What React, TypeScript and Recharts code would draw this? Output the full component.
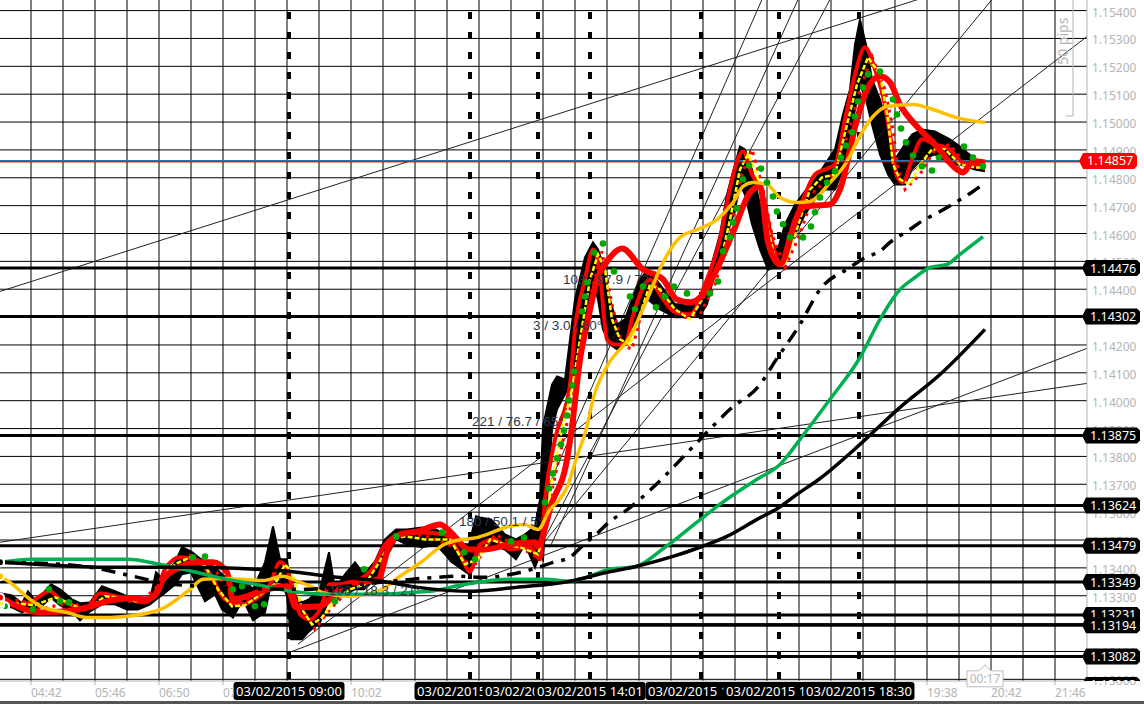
import React from "react";
import { ComposedChart, CartesianGrid, XAxis, YAxis, Line, Area, ReferenceLine, ReferenceDot } from "recharts";

const FONT = "'Noto Sans', sans-serif";
const hhmm = (t: number) => `${String(Math.floor(t / 60)).padStart(2, "0")}:${String(t % 60).padStart(2, "0")}`;

// time in minutes of the day, price
const priceTicks = [1.13, 1.131, 1.132, 1.133, 1.134, 1.135, 1.136, 1.137, 1.138, 1.139, 1.14, 1.141, 1.142, 1.143, 1.144, 1.145, 1.146, 1.147, 1.148, 1.149, 1.15, 1.151, 1.152, 1.153, 1.154];
const timeLabels = [282, 346, 410, 474, 602, 1178, 1242, 1306];
const timeGrid = [282, 314, 346, 378, 410, 442, 474, 506, 538, 570, 602, 634, 666, 698, 730, 762, 794, 826, 858, 890, 922, 954, 986, 1018, 1050, 1082, 1114, 1146, 1178, 1210, 1242, 1274, 1306];
const levels = [1.14476, 1.14302, 1.13875, 1.13624, 1.13479, 1.13349, 1.13231, 1.13194, 1.13082];
const markers = [
  { t: 540, label: "03/02/2015 09:00" },
  { t: 721, label: "03/02/2015 12:01" },
  { t: 789, label: "03/02/2015 13:09" },
  { t: 841, label: "03/02/2015 14:01" },
  { t: 952, label: "03/02/2015 15:52" },
  { t: 1030, label: "03/02/2015 17:10" },
  { t: 1110, label: "03/02/2015 18:30" },
];
const annotations = [
  { t: 580, p: 1.13302, text: "106 / 18.3 / 21°" },
  { t: 710, p: 1.13550, text: "180 / 50.1 / 5°" },
  { t: 723, p: 1.13910, text: "221 / 76.7 / 65°" },
  { t: 784, p: 1.14255, text: "3 / 3.0 / 60°" },
  { t: 814, p: 1.14420, text: "103 / 97.9 / 72°" },
];
const trendLines = [
  [251, 1.14392, 1169, 1.1544],
  [549, 1.13126, 1338, 1.15307],
  [543, 1.131, 1338, 1.14188],
  [251, 1.13492, 1338, 1.14062],
  [791, 1.13474, 1243, 1.1544],
  [791, 1.13474, 1081, 1.1544],
  [801, 1.13474, 1049, 1.1544],
  [791, 1.13624, 1013, 1.1544],
];

// time, high, low
const priceBand = [
  [251,1.13309,1.13266],[263,1.13301,1.13258],[273,1.13273,1.1324],[279,1.13316,1.13251],[287,1.1328,1.13244],[302,1.13341,1.13294],[311,1.13323,1.13266],[323,1.13287,1.13244],[331,1.13273,1.13212],[341,1.13276,1.13244],[353,1.13334,1.13269],[366,1.13316,1.13269],[378,1.13298,1.13251],[389,1.13294,1.13251],[401,1.13287,1.13269],[407,1.13384,1.13287],[414,1.13359,1.13305],[426,1.1342,1.1334],[433,1.13474,1.13377],[442,1.13459,1.13384],[456,1.1342,1.1328],[466,1.13402,1.13305],[473,1.13377,1.13251],[484,1.13341,1.13222],[494,1.13359,1.13287],[504,1.13323,1.13212],[516,1.1342,1.1324],[524,1.13549,1.13377],[531,1.13431,1.13359],[538,1.13431,1.133],[542,1.13312,1.13144],[553,1.13276,1.13144],[560,1.13287,1.13172],[571,1.13323,1.13205],[580,1.13456,1.13287],[586,1.13323,1.13287],[596,1.13377,1.13305],[606,1.1342,1.13323],[615,1.13377,1.13323],[626,1.13423,1.13359],[636,1.13502,1.13431],[647,1.13538,1.13502],[658,1.13538,1.13484],[673,1.13545,1.13474],[687,1.13538,1.13484],[696,1.1352,1.13449],[702,1.1349,1.13423],[720,1.13484,1.13377],[727,1.13585,1.1344],[731,1.13581,1.13477],[742,1.13574,1.13484],[756,1.1352,1.13466],[767,1.13502,1.13431],[776,1.1352,1.13484],[786,1.13549,1.13402],[791,1.13646,1.13449],[794,1.13908,1.13431],[803,1.14058,1.13897],[808,1.14087,1.13969],[816,1.14076,1.14023],[826,1.14363,1.14105],[836,1.14514,1.14292],[844,1.14568,1.14435],[849,1.14543,1.14363],[854,1.14489,1.14256],[861,1.14363,1.14202],[868,1.14274,1.14184],[876,1.14292,1.14202],[883,1.14363,1.14238],[891,1.14435,1.14328],[899,1.14471,1.14363],[911,1.14417,1.14328],[926,1.14346,1.14299],[941,1.14346,1.14299],[951,1.14363,1.14306],[958,1.14428,1.14346],[964,1.14507,1.14435],[971,1.14597,1.14489],[978,1.1474,1.14597],[986,1.14848,1.14686],[991,1.14912,1.14776],[996,1.14902,1.1474],[1003,1.1483,1.14633],[1011,1.14704,1.14543],[1019,1.14579,1.14471],[1029,1.14543,1.14482],[1036,1.14633,1.14525],[1046,1.14704,1.14597],[1056,1.14751,1.14668],[1066,1.14794,1.14722],[1076,1.14848,1.14758],[1086,1.14902,1.14758],[1094,1.15027,1.1483],[1101,1.15117,1.14955],[1106,1.15278,1.15045],[1111,1.15368,1.15135],[1117,1.15278,1.15081],[1123,1.15153,1.14991],[1131,1.15081,1.14884],[1139,1.14973,1.14812],[1146,1.14866,1.14776],[1156,1.1492,1.14776],[1163,1.14955,1.1483],[1173,1.14973,1.14866],[1186,1.14966,1.14884],[1201,1.14938,1.14848],[1211,1.14912,1.14848],[1226,1.14866,1.1483],[1236,1.14848,1.14823],
];
const redSlow = [
  [251,1.13294],[271,1.13258],[291,1.1324],[318,1.13244],[338,1.13258],[358,1.1328],[378,1.13291],[398,1.13287],[408,1.13312],[414,1.13359],[431,1.13402],[448,1.1342],[464,1.1342],[478,1.13384],[484,1.13287],[498,1.13298],[518,1.13323],[538,1.13334],[547,1.13258],[571,1.13262],[581,1.13287],[596,1.13341],[629,1.13359],[640,1.13477],[651,1.1352],[669,1.13531],[691,1.13556],[702,1.13527],[720,1.13466],[735,1.13466],[760,1.13484],[786,1.13492],[788,1.13477],[803,1.13635],[818,1.13789],[823,1.13908],[831,1.14148],[839,1.14292],[849,1.14446],[858,1.145],[873,1.14546],[894,1.14471],[914,1.14435],[928,1.14363],[941,1.14353],[954,1.14381],[971,1.14496],[984,1.14604],[1001,1.14747],[1011,1.14769],[1019,1.14568],[1031,1.14489],[1048,1.14661],[1054,1.14697],[1081,1.14704],[1091,1.14758],[1108,1.15009],[1118,1.15117],[1131,1.15164],[1141,1.15142],[1151,1.15063],[1168,1.14984],[1184,1.14927],[1208,1.1483],[1214,1.14819],[1224,1.14859],[1236,1.14855],
];
const redFast = [
  [251,1.13287],[266,1.13266],[281,1.13276],[301,1.13316],[311,1.13287],[326,1.13262],[336,1.13251],[351,1.13309],[366,1.13298],[381,1.13287],[396,1.13276],[408,1.13323],[416,1.13395],[431,1.13438],[446,1.13431],[461,1.13377],[476,1.13287],[491,1.13269],[506,1.13287],[521,1.13341],[531,1.1342],[538,1.13395],[546,1.13287],[551,1.13233],[561,1.13215],[571,1.13251],[581,1.13341],[596,1.13341],[611,1.13359],[623,1.13395],[636,1.13484],[651,1.1352],[671,1.13527],[696,1.1352],[711,1.13449],[721,1.13387],[731,1.13484],[746,1.13502],[761,1.13466],[781,1.13474],[791,1.13431],[796,1.13646],[806,1.13861],[821,1.14058],[826,1.14256],[836,1.14435],[844,1.14543],[851,1.14453],[858,1.1422],[866,1.14202],[876,1.14202],[883,1.14292],[891,1.14381],[901,1.14435],[911,1.14381],[926,1.14317],[941,1.1431],[956,1.14417],[971,1.14579],[983,1.14794],[994,1.14894],[1003,1.14812],[1013,1.14747],[1026,1.14532],[1031,1.14489],[1041,1.14597],[1056,1.1474],[1066,1.14812],[1076,1.1483],[1086,1.14848],[1096,1.15009],[1106,1.15171],[1116,1.15268],[1126,1.15189],[1134,1.15092],[1143,1.14912],[1148,1.14805],[1154,1.14783],[1163,1.14866],[1173,1.14938],[1186,1.1492],[1201,1.14902],[1216,1.14848],[1226,1.14848],[1236,1.14848],
];
const yellowDotted = [
  [251,1.13276],[266,1.13273],[286,1.13266],[306,1.13294],[316,1.1328],[329,1.13258],[341,1.13258],[356,1.13298],[371,1.13294],[386,1.1328],[401,1.13287],[413,1.13341],[426,1.13413],[441,1.13438],[456,1.13409],[469,1.13323],[483,1.13262],[496,1.13266],[513,1.13309],[526,1.13341],[536,1.13413],[544,1.13377],[553,1.13251],[563,1.13197],[573,1.13222],[586,1.13287],[601,1.13323],[616,1.13341],[629,1.13413],[643,1.13502],[656,1.13513],[676,1.13502],[701,1.13502],[716,1.13413],[729,1.13431],[741,1.13502],[756,1.13484],[771,1.13474],[789,1.13449],[796,1.13538],[803,1.13718],[813,1.13897],[823,1.14041],[831,1.1422],[841,1.14435],[849,1.14525],[856,1.14471],[863,1.14292],[871,1.1422],[881,1.14202],[891,1.1431],[901,1.14417],[911,1.14399],[926,1.14328],[941,1.14292],[956,1.14381],[971,1.14489],[981,1.1465],[991,1.1483],[999,1.14884],[1008,1.14812],[1018,1.14633],[1026,1.14507],[1036,1.14489],[1046,1.14597],[1061,1.14758],[1073,1.14801],[1086,1.14812],[1098,1.14991],[1108,1.15135],[1119,1.15232],[1131,1.15171],[1139,1.15009],[1144,1.14848],[1151,1.14794],[1161,1.14776],[1171,1.14848],[1183,1.14902],[1196,1.14902],[1211,1.14848],[1226,1.14837],[1236,1.14837],
];
const redDotted = [
  [251,1.13266],[271,1.13287],[291,1.13251],[321,1.13276],[341,1.13251],[361,1.13287],[391,1.13276],[416,1.13359],[441,1.13445],[466,1.13395],[486,1.13273],[511,1.13294],[536,1.13402],[551,1.13269],[566,1.13179],[581,1.13251],[606,1.13341],[636,1.13431],[651,1.13531],[681,1.13509],[706,1.13474],[723,1.13395],[746,1.1352],[771,1.13474],[791,1.13431],[801,1.13646],[811,1.13807],[821,1.13969],[833,1.1422],[843,1.14399],[853,1.14536],[863,1.14346],[873,1.14202],[883,1.14184],[896,1.14363],[906,1.14435],[919,1.14346],[936,1.14299],[951,1.1431],[966,1.14417],[979,1.14579],[993,1.14812],[1003,1.14902],[1013,1.14776],[1023,1.14597],[1036,1.14478],[1051,1.14597],[1066,1.14758],[1081,1.14794],[1099,1.14955],[1111,1.15117],[1123,1.15235],[1136,1.15117],[1144,1.14973],[1149,1.1483],[1156,1.14758],[1171,1.14812],[1186,1.14902],[1201,1.1492],[1216,1.14848],[1236,1.1483],
];
const greenDots = [
  [256,1.13262],[284,1.13251],[300,1.13323],[311,1.1328],[320,1.13276],[444,1.13438],[456,1.13441],[484,1.13323],[493,1.13334],[506,1.13262],[515,1.13269],[586,1.1328],[615,1.13395],[647,1.13513],[693,1.13527],[715,1.13456],[726,1.13431],[762,1.13495],[775,1.13509],[796,1.13635],[800,1.13685],[804,1.13739],[808,1.13793],[812,1.13843],[815,1.13893],[818,1.13947],[820,1.14001],[823,1.14055],[825,1.14105],[833,1.1432],[836,1.14374],[838,1.14424],[845,1.14532],[854,1.14564],[865,1.14464],[881,1.14374],[886,1.14328],[894,1.1441],[907,1.14335],[916,1.14374],[925,1.1441],[938,1.14385],[961,1.14385],[969,1.14428],[974,1.14536],[981,1.14586],[984,1.1464],[988,1.1469],[994,1.14794],[1000,1.14844],[1012,1.14833],[1018,1.14783],[1024,1.14733],[1028,1.14679],[1034,1.14633],[1041,1.14586],[1054,1.14586],[1062,1.14625],[1066,1.14676],[1071,1.14729],[1078,1.14783],[1086,1.14823],[1092,1.14873],[1097,1.14916],[1103,1.14963],[1106,1.1502],[1109,1.15074],[1114,1.15124],[1119,1.15171],[1131,1.15181],[1144,1.15081],[1148,1.15027],[1152,1.14977],[1157,1.14927],[1164,1.1488],[1173,1.14841],[1183,1.14826],[1190,1.14873],[1215,1.14912],[1224,1.14873],[1234,1.14841],
];
const orangeMa = [
  [251,1.1337],[261,1.13348],[281,1.13287],[294,1.13258],[318,1.1324],[338,1.13222],[361,1.13222],[378,1.13226],[401,1.1324],[414,1.13255],[428,1.13287],[441,1.13323],[454,1.13359],[478,1.13362],[491,1.13359],[514,1.13355],[534,1.1337],[548,1.13352],[564,1.1333],[573,1.13312],[601,1.13298],[616,1.13305],[633,1.13323],[651,1.1337],[673,1.13423],[695,1.13484],[713,1.13502],[724,1.13506],[738,1.1352],[756,1.13545],[775,1.13556],[789,1.13538],[801,1.1361],[808,1.13635],[818,1.13689],[828,1.138],[838,1.13908],[844,1.14005],[858,1.14123],[881,1.14231],[898,1.14363],[914,1.14496],[931,1.14586],[951,1.14618],[968,1.1465],[984,1.14711],[994,1.14769],[1004,1.14783],[1018,1.14776],[1031,1.14729],[1048,1.14711],[1061,1.14715],[1081,1.14783],[1098,1.14859],[1109,1.14938],[1124,1.1502],[1138,1.15056],[1164,1.15063],[1184,1.15045],[1208,1.15016],[1236,1.14998],
];
const greenMa = [
  [251,1.1342],[284,1.13431],[331,1.13431],[378,1.13431],[411,1.13413],[444,1.13387],[469,1.13366],[506,1.13341],[542,1.13316],[578,1.13305],[615,1.13305],[680,1.13316],[716,1.13341],[760,1.13359],[796,1.13359],[821,1.13352],[861,1.13395],[887,1.13405],[916,1.13474],[949,1.13567],[975,1.13639],[1008,1.13718],[1031,1.13771],[1051,1.13861],[1081,1.14005],[1111,1.14155],[1131,1.14292],[1151,1.14399],[1166,1.14442],[1181,1.14478],[1198,1.14489],[1211,1.14525],[1234,1.14589],
];
const blackMa = [
  [251,1.1342],[287,1.13413],[360,1.13402],[433,1.13402],[506,1.13395],[542,1.13387],[578,1.1337],[633,1.13352],[669,1.1333],[724,1.13316],[767,1.1333],[821,1.13352],[858,1.13384],[887,1.13405],[924,1.13441],[951,1.13474],[978,1.13513],[1008,1.13574],[1030,1.13617],[1048,1.13664],[1070,1.13718],[1111,1.13843],[1151,1.13976],[1191,1.14094],[1236,1.14256],
];
const blackDashed = [
  [251,1.1342],[311,1.13413],[353,1.13395],[375,1.13377],[389,1.13366],[422,1.13341],[551,1.13323],[631,1.13348],[687,1.13366],[709,1.1337],[731,1.13366],[786,1.13398],[804,1.1342],[821,1.13438],[832,1.13474],[847,1.1352],[861,1.13567],[876,1.13603],[891,1.13646],[905,1.13692],[951,1.13861],[981,1.13969],[1011,1.14058],[1026,1.14141],[1051,1.14274],[1071,1.14399],[1101,1.14478],[1116,1.14514],[1131,1.14536],[1141,1.14568],[1161,1.14615],[1171,1.1464],[1191,1.14679],[1203,1.14704],[1224,1.14751],[1234,1.14776],
];

const toPts = (rows: number[][]) => rows.map(([t, p]) => ({ t, p }));
const bandData = priceBand.map(([t, h, l]) => ({ t, range: [l, h] }));

const boxLabel = (text: string, x: number, y: number, fill: string, tip: number, right: number, clip?: string) => (
  <g clipPath={clip}>
    <polygon points={`${x - tip},${y} ${x},${y - 8} ${right - 3},${y - 8} ${right},${y - 5} ${right},${y + 5} ${right - 3},${y + 8} ${x},${y + 8}`} fill={fill} />
    <text x={x + 4} y={y + 4.5} fill="#fff" fontFamily={FONT} fontSize={12.5}>{text}</text>
  </g>
);

export default function App() {
  return (
    <div style={{ position: "absolute", left: 0, top: 0, width: 1144, height: 704, background: "#fff", overflow: "hidden" }}>
      <ComposedChart width={1144} height={701} margin={{ top: 0, right: 0, bottom: 0, left: 0 }} data={bandData}>
        <defs>
          <clipPath id="plotBottom"><rect x={0} y={0} width={1144} height={681} /></clipPath>
        </defs>
        <CartesianGrid stroke="#000" strokeWidth={1} horizontalValues={priceTicks} verticalValues={timeGrid} />
        <XAxis
          dataKey="t" type="number" domain={[251, 1338]} allowDataOverflow height={20} ticks={timeLabels} interval={0}
          stroke="#b4b4b4" tickSize={4}
          tick={(p: any) => (
            <svg x={p.x} y={682} width={p.payload.value === 474 ? 11 : 40} height={20}>
              <text x={0} y={15} fill="#b4b4b4" fontFamily={FONT} fontSize={12}>{hhmm(p.payload.value)}</text>
            </svg>
          )}
        />
        <YAxis
          orientation="right" type="number" domain={[1.12994, 1.15438]} allowDataOverflow width={57} ticks={priceTicks} interval={0}
          stroke="#b4b4b4" tickLine={false} tick={() => <g />}
        />
        {priceTicks.map((p) => (
          <ReferenceDot key={p} x={1338} y={p} r={0} ifOverflow="visible"
            shape={(s: any) => <text x={1092} y={s.cy + 6} fill="#b4b4b4" fontFamily={FONT} fontSize={12}>{p.toFixed(5)}</text>} />
        ))}
        {annotations.map((a) => (
          <ReferenceDot key={a.text} x={a.t} y={a.p} r={0} ifOverflow="visible"
            shape={(s: any) => <text x={s.cx} y={s.cy} fill="#2b3a4a" fontFamily="'Liberation Sans', sans-serif" fontSize={13.5}>{a.text}</text>} />
        ))}
        {trendLines.map(([t1, p1, t2, p2], i) => (
          <ReferenceLine key={i} ifOverflow="visible" stroke="#222" strokeWidth={1}
            segment={[{ x: t1, y: p1 }, { x: t2, y: p2 }]} />
        ))}
        {levels.map((p) => (
          <ReferenceLine key={p} y={p} stroke="#000" strokeWidth={3} />
        ))}
        {markers.map((m) => (
          <ReferenceLine key={m.t} x={m.t} stroke="#000" strokeWidth={4} strokeDasharray="0 2 7 11" />
        ))}
        <ReferenceLine y={1.1486} stroke="#1f78b4" strokeWidth={2} />
        <Area dataKey="range" stroke="#000" strokeWidth={2} fill="#000" fillOpacity={1} isAnimationActive={false} type="linear" dot={false} activeDot={false} />
        <Line data={toPts(redDotted)} dataKey="p" stroke="#ff0000" strokeWidth={3} strokeDasharray="3 5" dot={false} isAnimationActive={false} type="linear" />
        <Line data={toPts(greenDots)} dataKey="p" stroke="none" dot={{ r: 3.3, fill: "#00a800", stroke: "#00a800", strokeWidth: 0 }} isAnimationActive={false} type="linear" />
        <Line data={toPts(redFast)} dataKey="p" stroke="#ff0000" strokeWidth={4} dot={false} isAnimationActive={false} type="monotone" />
        <Line data={toPts(yellowDotted)} dataKey="p" stroke="#ffff00" strokeWidth={2.5} strokeDasharray="5 2" dot={false} isAnimationActive={false} type="linear" />
        <Line data={toPts(redSlow)} dataKey="p" stroke="#ff0000" strokeWidth={6} dot={false} isAnimationActive={false} type="monotone" />
        <Line data={toPts(orangeMa)} dataKey="p" stroke="#ffc000" strokeWidth={3.5} dot={false} isAnimationActive={false} type="monotone" />
        <Line data={toPts(greenMa)} dataKey="p" stroke="#00b050" strokeWidth={3.5} dot={false} isAnimationActive={false} type="monotone" />
        <Line data={toPts(blackMa)} dataKey="p" stroke="#000" strokeWidth={3.5} dot={false} isAnimationActive={false} type="monotone" />
        <Line data={toPts(blackDashed)} dataKey="p" stroke="#000" strokeWidth={3.5} strokeDasharray="14 8 4 8" dot={false} isAnimationActive={false} type="monotone" />
        <ReferenceLine y={1.14857} stroke="#e00000" strokeWidth={1} />

        {/* 50 pips ruler */}
        <ReferenceLine ifOverflow="visible" stroke="#b4b4b4" segment={[{ x: 1324, y: 1.15438 }, { x: 1324, y: 1.15022 }]} />
        <ReferenceLine ifOverflow="visible" stroke="#b4b4b4" segment={[{ x: 1317, y: 1.15022 }, { x: 1324, y: 1.15022 }]} />
        <ReferenceDot x={1320} y={1.1529} r={0} ifOverflow="visible"
          shape={(s: any) => (
            <text transform={`translate(${s.cx - 1},${s.cy}) rotate(-90)`} textAnchor="middle" fill="#b4b4b4" fontFamily={FONT} fontSize={14}>50 pips</text>
          )} />

        {/* time flags */}
        {markers.map((m) => (
          <ReferenceDot key={m.t} x={m.t} y={1.13} r={0} ifOverflow="visible"
            shape={(s: any) => (
              <g>
                <rect x={s.cx - 55.5} y={682} width={111} height={18} rx={3} fill="#000" />
                <svg x={s.cx - 55.5} y={682} width={111} height={18}>
                  <text x={55.5} y={13.5} textAnchor="middle" fill="#fff" fontFamily={FONT} fontSize={13}>{m.label}</text>
                </svg>
              </g>
            )} />
        ))}
        <ReferenceDot x={1236} y={1.13052} r={0} ifOverflow="visible"
          shape={(s: any) => (
            <g>
              <polygon points={`${s.cx},${s.cy} ${s.cx + 6},${s.cy + 6} ${s.cx + 18},${s.cy + 6} ${s.cx + 18},${s.cy + 22} ${s.cx - 18},${s.cy + 22} ${s.cx - 18},${s.cy + 6} ${s.cx - 6},${s.cy + 6}`} fill="#fff" stroke="#bbb" />
              <text x={s.cx} y={s.cy + 18} textAnchor="middle" fill="#b4b4b4" fontFamily={FONT} fontSize={12}>00:17</text>
            </g>
          )} />

        {/* price flags */}
        {[...levels, 1.1298].map((p) => (
          <ReferenceDot key={p} x={1338} y={p} r={0} ifOverflow="visible"
            shape={(s: any) => boxLabel(p === 1.1298 ? "1.13003" : p.toFixed(5), 1086, s.cy, "#000", 4, 1140, "url(#plotBottom)")} />
        ))}
        <ReferenceDot x={1338} y={1.14857} r={0} ifOverflow="visible"
          shape={(s: any) => boxLabel("1.14857", 1083, s.cy - 1, "#ff0000", 4, 1137)} />
      </ComposedChart>
      <div style={{ position: "absolute", left: 0, top: 701, width: 1144, height: 3, background: "#555" }} />
    </div>
  );
}
